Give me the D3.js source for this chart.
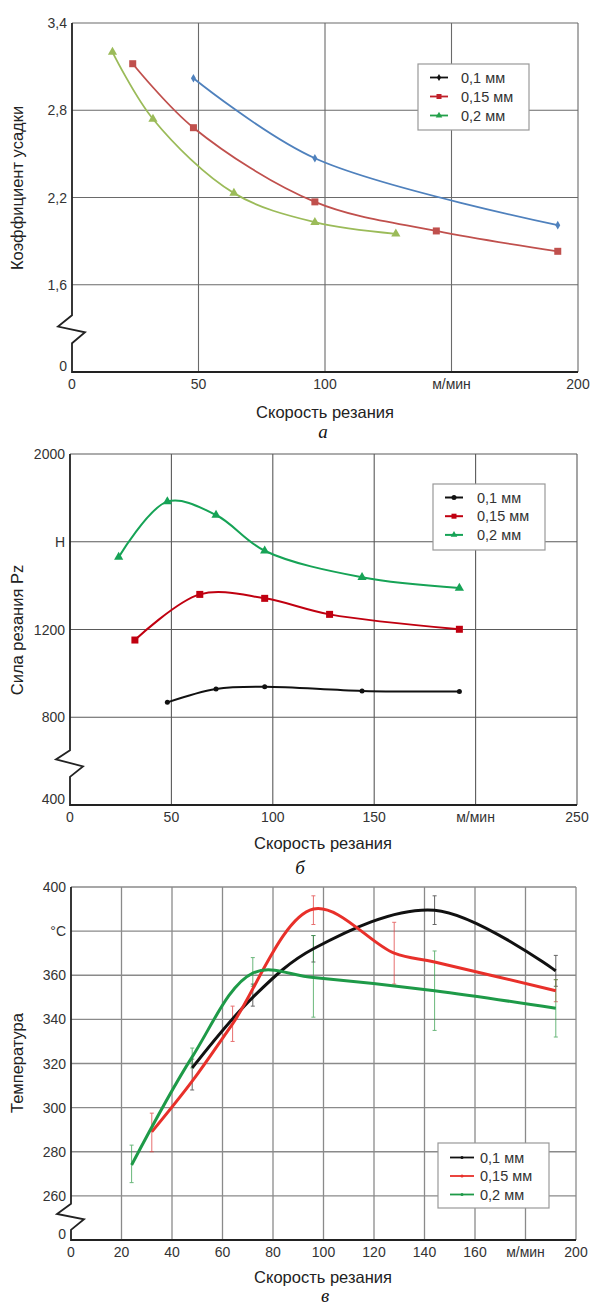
<!DOCTYPE html>
<html><head><meta charset="utf-8">
<script src="https://cdn.jsdelivr.net/npm/d3@7/dist/d3.min.js"></script>
<style>
html,body{margin:0;padding:0;background:#fff;}
svg{display:block;font-family:"Liberation Sans",Arial,sans-serif;}
</style></head>
<body>
<script>
// ---------- DATA ----------
const seriesNames = ["0,1 мм", "0,15 мм", "0,2 мм"];

// Panel а: shrinkage coefficient
const aX = [0, 50, 100, 150, 200];
const aXLabels = ["0", "50", "100", "м/мин", "200"];
const aY = [1.0, 1.6, 2.2, 2.8, 3.4];
const aYLabels = ["0", "1,6", "2,2", "2,8", "3,4"];
const aS1 = [[48, 3.02], [96, 2.47], [192, 2.01]];
const aS2 = [[24, 3.12], [48, 2.68], [96, 2.17], [144, 1.97], [192, 1.83]];
const aS3 = [[16, 3.20], [32, 2.74], [64, 2.23], [96, 2.03], [128, 1.95]];

// Panel б: cutting force Pz
const bX = [0, 50, 100, 150, 200, 250];
const bXLabels = ["0", "50", "100", "150", "м/мин", "250"];
const bY = [400, 800, 1200, 1600, 2000];
const bYLabels = ["400", "800", "1200", "Н", "2000"];
const bS1 = [[48, 868], [72, 929], [96, 939], [144, 920], [192, 917]];
const bS2 = [[32, 1152], [64, 1360], [96, 1342], [128, 1269], [192, 1201]];
const bS3 = [[24, 1530], [48, 1783], [72, 1722], [96, 1559], [144, 1438], [192, 1389]];

// Panel в: temperature
const cX = [0, 20, 40, 60, 80, 100, 120, 140, 160, 180, 200];
const cXLabels = ["0", "20", "40", "60", "80", "100", "120", "140", "160", "м/мин", "200"];
const cY = [240, 260, 280, 300, 320, 340, 360, 380, 400];
const cYLabels = ["0", "260", "280", "300", "320", "340", "360", "°C", "400"];
const cS1 = [[48, 318], [72, 350], [96, 372], [144, 389.5], [192, 362]];
const cS2 = [[32, 289], [48, 312], [64, 338], [96, 390], [128, 370], [144, 366], [192, 353]];
const cS3 = [[24, 274], [48, 323], [72, 361], [96, 359], [144, 353], [192, 345]];
// error bars [x, low, high]
const cE1 = [[48, 308, 322], [72, 346, 356], [96, 366, 378], [144, 383, 396], [192, 355, 369]];
const cE2 = [[32, 280, 297.5], [64, 330, 346], [96, 383, 396], [128, 356, 384], [192, 348, 358]];
const cE3 = [[24, 266, 283], [48, 318, 327], [72, 355, 368], [96, 341, 378], [144, 335, 371], [192, 332, 358]];

// ---------- DRAW ----------
const W = 592, H = 1307;
const svg = d3.select("body").append("svg").attr("width", W).attr("height", H);

function marker(g, type, x, y, color, size) {
  if (type === "square") {
    g.append("rect").attr("x", x - size / 2).attr("y", y - size / 2)
      .attr("width", size).attr("height", size).attr("fill", color);
  } else if (type === "triangle") {
    g.append("path").attr("d", d3.symbol(d3.symbolTriangle, size * size * 0.75)())
      .attr("transform", `translate(${x},${y})`).attr("fill", color);
  } else if (type === "diamond") {
    g.append("path").attr("d", d3.symbol(d3.symbolDiamond, size * size * 0.6)())
      .attr("transform", `translate(${x},${y})`).attr("fill", color);
  } else if (type === "dot") {
    g.append("circle").attr("cx", x).attr("cy", y).attr("r", size / 2).attr("fill", color);
  }
}

function panel(cfg) {
  const g = svg.append("g");
  const x = d3.scaleLinear().domain([cfg.xT[0], cfg.xT[cfg.xT.length - 1]]).range([cfg.L, cfg.R]);
  const y = d3.scaleLinear().domain([cfg.yT[0], cfg.yT[cfg.yT.length - 1]]).range([cfg.B, cfg.T]);

  // grid
  const grid = g.append("g").attr("stroke", cfg.gridColor).attr("stroke-width", cfg.gridW);
  cfg.xT.slice(1).forEach(v => grid.append("line").attr("x1", x(v)).attr("x2", x(v)).attr("y1", cfg.T).attr("y2", cfg.B));
  cfg.yT.slice(1).forEach(v => grid.append("line").attr("x1", cfg.L).attr("x2", cfg.R).attr("y1", y(v)).attr("y2", y(v)));

  // axes (left with break, bottom)
  const y0 = y(cfg.yT[0]), y1 = y(cfg.yT[1]);
  const d = y0 - y1;
  const bk = cfg.brk;
  const L = cfg.L;
  g.append("path").attr("fill", "none").attr("stroke", "#222").attr("stroke-width", 1.8)
    .attr("d", `M${L},${cfg.T}V${y1 + d * bk[0]}L${L - 14},${y1 + d * bk[1]}L${L + 13},${y1 + d * bk[2]}L${L},${y1 + d * bk[3]}V${y0}H${cfg.R}`);

  // tick labels
  const tl = g.append("g").attr("fill", "#333").attr("font-size", cfg.tickFs);
  cfg.yT.forEach((v, i) => {
    tl.append("text").attr("x", cfg.L - 5).attr("y", y(v) + (i === 0 ? -1 : 5))
      .attr("text-anchor", "end").text(cfg.yL[i]);
  });
  cfg.xT.forEach((v, i) => {
    tl.append("text").attr("x", x(v)).attr("y", cfg.B + 17).attr("text-anchor", "middle").text(cfg.xL[i]);
  });

  // axis titles
  g.append("text").attr("transform", `translate(${cfg.yTitleX},${cfg.yTitleY}) rotate(-90)`)
    .attr("text-anchor", "middle").attr("font-size", cfg.titleFs).attr("fill", "#222").text(cfg.yTitle);
  g.append("text").attr("x", cfg.xTitleX).attr("y", cfg.xTitleY)
    .attr("text-anchor", "middle").attr("font-size", cfg.titleFs).attr("fill", "#222").text(cfg.xTitle);
  g.append("text").attr("x", cfg.capX).attr("y", cfg.capY)
    .attr("text-anchor", "middle").attr("font-size", 19).attr("font-style", "italic")
    .attr("font-family", "'Liberation Serif','Times New Roman',serif").attr("fill", "#111").text(cfg.cap);

  // error bars
  if (cfg.errs) {
    cfg.errs.forEach((es, si) => {
      const eg = g.append("g").attr("stroke", cfg.errColors[si]).attr("stroke-width", 1).attr("opacity", 0.75);
      es.forEach(e => {
        eg.append("line").attr("x1", x(e[0])).attr("x2", x(e[0])).attr("y1", y(e[1])).attr("y2", y(e[2]));
        eg.append("line").attr("x1", x(e[0]) - 2).attr("x2", x(e[0]) + 2).attr("y1", y(e[1])).attr("y2", y(e[1]));
        eg.append("line").attr("x1", x(e[0]) - 2).attr("x2", x(e[0]) + 2).attr("y1", y(e[2])).attr("y2", y(e[2]));
      });
    });
  }

  // series
  const line = d3.line().x(p => x(p[0])).y(p => y(p[1])).curve(d3.curveCatmullRom.alpha(0.5));
  cfg.series.forEach((s, si) => {
    g.append("path").datum(s).attr("d", line).attr("fill", "none")
      .attr("stroke", cfg.colors[si]).attr("stroke-width", cfg.lineW).attr("stroke-linejoin", "round");
    if (cfg.markers) {
      s.forEach(p => marker(g, cfg.markers[si], x(p[0]), y(p[1]), cfg.colors[si], cfg.mSize[si]));
    }
  });

  // legend
  const lg = cfg.legend;
  const leg = g.append("g");
  leg.append("rect").attr("x", lg.x).attr("y", lg.y).attr("width", lg.w).attr("height", lg.h)
    .attr("fill", "#fff").attr("stroke", "#999").attr("stroke-width", 1.2);
  seriesNames.forEach((n, i) => {
    const yy = lg.y + lg.r0 + i * lg.dy;
    leg.append("line").attr("x1", lg.lx0).attr("x2", lg.lx1).attr("y1", yy).attr("y2", yy)
      .attr("stroke", lg.colors[i]).attr("stroke-width", lg.lw);
    marker(leg, lg.markers[i], (lg.lx0 + lg.lx1) / 2, yy, lg.colors[i], lg.ms);
    leg.append("text").attr("x", lg.tx).attr("y", yy + 5).attr("font-size", lg.fs).attr("fill", "#333").text(n);
  });
}

// Panel а
panel({
  L: 72, R: 578, T: 23, B: 372,
  xT: aX, xL: aXLabels, yT: aY, yL: aYLabels,
  brk: [0.35, 0.48, 0.545, 0.67],
  gridColor: "#6a6a6a", gridW: 1.1, tickFs: 14, titleFs: 16.5,
  yTitle: "Коэффициент усадки", yTitleX: 23, yTitleY: 188,
  xTitle: "Скорость резания", xTitleX: 325, xTitleY: 418,
  cap: "а", capX: 323, capY: 438,
  series: [aS1, aS2, aS3], colors: ["#4f81bd", "#c0504d", "#9bbb59"], lineW: 1.8,
  markers: ["diamond", "square", "triangle"], mSize: [6, 7, 7],
  legend: { x: 418, y: 64, w: 111, h: 66, r0: 13.5, dy: 19, lx0: 430, lx1: 448, tx: 461, fs: 14.5, lw: 1.8,
    colors: ["#111", "#c0202a", "#23a04a"], markers: ["diamond", "square", "triangle"], ms: 5 }
});

// Panel б
panel({
  L: 70, R: 577, T: 454, B: 805,
  xT: bX, xL: bXLabels, yT: bY, yL: bYLabels,
  brk: [0.377, 0.48, 0.56, 0.68],
  gridColor: "#5a5a5a", gridW: 1.1, tickFs: 14, titleFs: 16.5,
  yTitle: "Сила резания Pz", yTitleX: 23, yTitleY: 630,
  xTitle: "Скорость резания", xTitleX: 323, xTitleY: 849,
  cap: "б", capX: 300, capY: 874,
  series: [bS1, bS2, bS3], colors: ["#111", "#c00010", "#16a356"], lineW: 2,
  markers: ["dot", "square", "triangle"], mSize: [5, 7, 7],
  legend: { x: 433, y: 484, w: 112, h: 66, r0: 13.5, dy: 18.7, lx0: 445, lx1: 463, tx: 477, fs: 14.5, lw: 2,
    colors: ["#111", "#c00010", "#16a356"], markers: ["dot", "square", "triangle"], ms: 5 }
});

// Panel в
panel({
  L: 71, R: 576, T: 887, B: 1240,
  xT: cX, xL: cXLabels, yT: cY, yL: cYLabels,
  brk: [0.18, 0.41, 0.53, 0.77],
  gridColor: "#8a8a8a", gridW: 1.3, tickFs: 14, titleFs: 16.5,
  yTitle: "Температура", yTitleX: 23, yTitleY: 1063,
  xTitle: "Скорость резания", xTitleX: 323, xTitleY: 1283,
  cap: "в", capX: 325, capY: 1302,
  series: [cS1, cS2, cS3], colors: ["#111", "#e8302a", "#1e9a48"], lineW: 3,
  errs: [cE1, cE2, cE3], errColors: ["#333", "#e04040", "#3aa050"],
  legend: { x: 438, y: 1143, w: 111, h: 65, r0: 14.5, dy: 18.5, lx0: 450, lx1: 474, tx: 480, fs: 14.5, lw: 1.8,
    colors: ["#111", "#e8302a", "#1e9a48"], markers: ["dot", "dot", "dot"], ms: 3 }
});
</script>
</body></html>
